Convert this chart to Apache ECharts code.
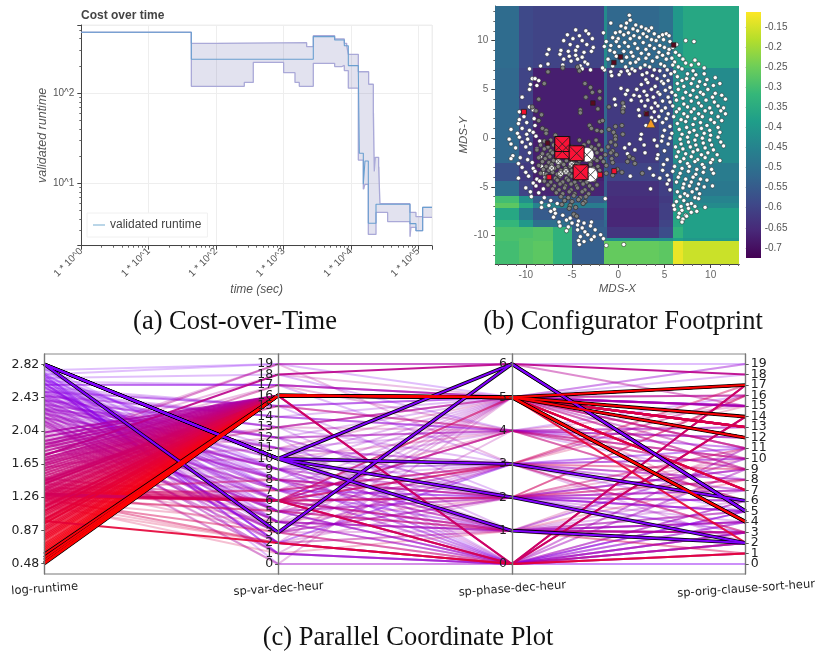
<!DOCTYPE html>
<html>
<head>
<meta charset="utf-8">
<style>html,body{margin:0;padding:0;background:#fff}#c{width:817px;height:652px}</style>
<script src="https://cdn.jsdelivr.net/npm/echarts@6/dist/echarts.min.js"></script>
</head>
<body>
<div id="c"></div>
<script>
// ---- (a) cost over time ----
const medianTime=[1,42.9,2767,5740,7980,9150,12880,13330,15280,16180,18120,23560,75200,92300,115900,159600];
const medianCost=[470,236,421,386,334,201,175,21.5,9.75,17.7,3.61,5.86,3.58,2.99,5.42,5.42];
const upperTime=[1,42.9,108,2205,2767,5740,7980,8650,9150,12880,18330,21500,22240,23020,25780,26980,75200,92300,115900,159600];
const upperCost=[470,355,361,326,431,396,355,334,268,172,125,59.6,13.5,19.4,15.3,5.96,4.77,4.27,5.42,5.42];
const lowerTime=[1,42.9,262,356,1004,1480,1715,2767,5740,7280,7980,9150,12880,15280,16180,18120,23560,35060,75200,77800,92300,115900,159600];
const lowerCost=[470,118.5,131,218,168,131,118.5,213,196,202,177,113,18.1,8.6,9.75,2.72,4.77,3.77,2.57,3.26,2.99,4.21,4.21];

// ---- (b) configurator footprint ----
const heatXEdges=[-13.3,-10.7,-9.2,-7.1,-5.0,-1.55,-1.2,4.4,5.95,7.0,13.1];
const heatYEdges=[13.55,7.17,-2.56,-4.37,-5.97,-6.66,-7.17,-8.36,-9.15,-10.2,-10.55,-12.9];
const heatValues=[
[-.51,-.59,-.60,-.60,-.60,-.43,-.52,-.50,-.40,-.36],
[-.52,-.60,-.675,-.675,-.675,-.52,-.62,-.58,-.42,-.43],
[-.57,-.62,-.675,-.675,-.675,-.55,-.60,-.58,-.45,-.47],
[-.50,-.60,-.665,-.665,-.665,-.55,-.64,-.61,-.45,-.48],
[-.30,-.42,-.55,-.55,-.55,-.50,-.65,-.62,-.42,-.45],
[-.27,-.35,-.45,-.45,-.47,-.45,-.65,-.61,-.42,-.43],
[-.36,-.47,-.55,-.55,-.57,-.50,-.66,-.61,-.38,-.38],
[-.32,-.40,-.50,-.50,-.55,-.52,-.66,-.60,-.36,-.38],
[-.29,-.29,-.28,-.33,-.54,-.54,-.63,-.58,-.33,-.38],
[-.29,-.28,-.28,-.33,-.54,-.45,-.42,-.42,-.38,-.40],
[-.30,-.28,-.27,-.33,-.54,-.26,-.26,-.27,-.13,-.16]];
const colorbarTicks=[-0.7,-0.65,-0.6,-0.55,-0.5,-0.45,-0.4,-0.35,-0.3,-0.25,-0.2,-0.15];
const mdsMajorTicks=[-10,-5,0,5,10];
const mdsMinorTicks=[-13,-12,-11,-9,-8,-7,-6,-4,-3,-2,-1,1,2,3,4,6,7,8,9,11,12,13];
const viridis=['#440154','#482878','#3e4989','#31688e','#26828e','#1f9e89','#35b779','#6ece58','#b5de2b','#fde725'];
const whitePoints=[
[1.2,12.6],[1.3,12.1],[.9,11.8],[1.9,11.6],[.3,11.5],[2.5,11.4],[-.8,11.8],[3.6,11.3],[3,11.2],[3.3,11],[1.6,11.2],[.8,11.3],[2.1,11],[.2,10.9],[-.3,10.8],[1.1,10.8],[2.7,10.7],[1.7,10.5],[.6,10.6],[3.9,10.7],[4.8,10.6],[5.2,10.7],[5.5,10.5],[4.4,10.4],[-1.6,10.8],[-.6,10.3],[0,10.2],[1.3,10.2],[2.3,10.3],[3.1,10.4],[3.6,10.1],[4.1,10],[4.9,10.1],[5.6,9.9],[7.3,10],[8.2,9.9],[-1.3,9.9],[-.2,9.9],[.7,9.8],[1.8,9.7],[2.7,9.8],[3.4,9.5],[4.5,9.5],[5,9.3],[6.3,9.6],[-1.5,9.4],[-.8,9.5],[.1,9.4],[1.1,9.4],[2.1,9.2],[3,9.1],[3.9,9.2],[5.5,9.1],[5.9,9.3],[-.9,9],[-.4,8.8],[.6,8.9],[1.4,8.8],[2.5,8.7],[3.3,8.6],[4.4,8.8],[4.8,8.5],[5.4,8.7],[6.2,8.8],[6.6,8.5],
[-.2,8.4],[.9,8.3],[1.6,8.4],[2.2,8.1],[3,8.2],[3.7,7.9],[4.2,8.3],[5.2,8.1],[5.8,8.2],[6.1,7.8],[7,8.1],[8.3,8],[-1.1,8.1],[.4,7.9],[1.3,7.7],[1.9,7.8],[2.9,7.5],[3.4,7.3],[4.6,7.6],[5,7.4],[5.9,7.5],[6.5,7.3],[7.3,7.7],[7.9,7.5],[8.7,7.6],[-.6,7.4],[.8,7.3],[1.5,7.1],[2.4,7.2],[3.9,7],[4.5,6.9],[5.3,7],[6.1,6.8],[6.9,7.1],[8.1,6.9],[9.3,7.2],[-1.5,7],[-.8,6.8],[.3,6.8],[1.2,6.6],[1.8,6.9],[2.6,6.5],[3.1,6.7],[3.7,6.4],[5,6.4],[5.7,6.6],[6.4,6.3],[7.5,6.6],[8.4,6.5],[9.3,6.6],[-.7,6.4],[.1,6.5],[1,6.9],[3,6],[4.2,6.1],[4.7,5.8],[5.4,5.9],[6.9,5.9],[7.4,6.1],[8.1,6.1],[8.8,5.8],[9.6,6],[10.5,6.2],[2.5,5.5],[3.2,5.7],[4,5.3],[4.9,5.6],[5.6,5.2],[6.4,5.6],[7.1,5.3],[7.9,5.6],[8.6,5.3],[9.4,5.5],[10.3,5.4],[11,5.6],
[.3,5.1],[1,4.9],[2,5],[2.8,4.8],[3.6,5],[4.3,4.7],[5.1,4.9],[5.8,4.7],[6.5,5],[7.3,4.7],[8.1,4.9],[8.9,4.7],[9.7,5],[10.5,4.6],[.8,4.5],[1.7,4.4],[2.3,4.3],[3.1,4.4],[3.8,4.2],[4.5,4.5],[5.4,4.2],[6.2,4.4],[7,4.1],[7.8,4.4],[8.5,4.2],[9.2,4.5],[10.2,4.2],[11.2,4.4],[-.4,4],[1.4,3.9],[2.5,3.8],[3.2,3.9],[4,3.6],[4.8,3.8],[5.6,3.7],[6.3,3.9],[7.1,3.5],[7.9,3.8],[8.7,3.6],[9.5,3.9],[10.4,3.7],[11.6,4],[-.3,3.4],[.6,3.2],[2.9,3.3],[3.6,3.1],[4.3,3.3],[5.1,3.1],[5.9,3.3],[6.6,3],[7.5,3.2],[8.2,3],[9,3.3],[9.9,3.1],[10.8,3.3],[11.4,3.1],[2.2,2.9],[3,2.6],[3.9,2.7],[4.7,2.8],[5.4,2.5],[6.3,2.7],[7.1,2.5],[7.9,2.7],[8.7,2.5],[9.4,2.8],[10.1,2.6],[11.1,2.8],[2.3,2.3],[3.6,2.1],[4.4,2.2],[5.2,2],[6,2.2],[6.8,1.9],[7.5,2.2],[8.3,2],[9.1,2.2],[10,1.9],[10.8,2.2],[11.6,2.5],[4,1.8],[4.8,1.6],[6.4,1.5],[7.3,1.7],[8.1,1.4],[8.9,1.6],[9.6,1.3],[10.4,1.6],[11.2,1.8],[3,1.3],[5.6,1.2],[6.6,.9],[7.4,1.1],[8.2,.8],[9,1],[9.9,.8],[10.8,1.1],
[5,.8],[5.8,.5],[6.9,.4],[7.7,.6],[8.5,.3],[9.3,.5],[10,.3],[11,.6],[2.5,.4],[4.8,.2],[5.6,0],[6.7,-.1],[7.5,.1],[8.3,-.2],[9.1,0],[9.9,-.2],[10.8,.1],[2.4,-.1],[3.9,-.2],[4.7,-.3],[5.4,-.6],[6.8,-.6],[7.6,-.4],[8.4,-.7],[9.2,-.5],[10.1,-.7],[11.1,-.4],[1.2,-.6],[2.8,-.7],[4.2,-.8],[6.2,-.9],[7,-1.1],[7.8,-.9],[8.6,-1.2],[9.4,-1],[10.3,-1.2],[11.4,-.8],[.7,-1],[1.8,-1.2],[5,-1.3],[6.5,-1.4],[7.3,-1.6],[8.1,-1.4],[9,-1.7],[9.7,-1.5],[10.7,-1.7],[1,-1.6],[2.9,-1.5],[4.3,-1.7],[6.3,-1.9],[7.1,-2.1],[7.9,-1.9],[8.6,-2.2],[9.4,-2],[10.2,-2.2],[4.2,-2.1],[5.3,-2.2],[6.7,-2.4],[7.5,-2.6],[8.3,-2.4],[9.1,-2.7],[10,-2.5],[11,-2.3],[4.9,-2.7],[6.1,-2.9],[6.9,-3.1],[7.7,-2.9],[8.5,-3.2],[9.3,-3],[10.1,-3.2],[3.4,-3.1],[4.8,-3.3],[5.9,-3.4],[6.7,-3.6],[7.6,-3.4],[8.4,-3.7],[9.2,-3.5],[10.3,-3.6],[1.3,-3.9],[3.8,-3.8],[5.3,-3.8],[6.5,-4],[7.3,-4.2],[8.1,-4],[8.9,-4.2],[4.5,-4.1],[5.5,-4.3],[6.3,-4.5],[7.1,-4.7],[7.9,-4.5],[8.7,-4.7],[9.6,-4.3],[5.3,-4.7],[7,-5.1],[7.7,-4.9],[8.5,-5.2],[9.3,-5],[10.2,-4.9],[3.5,-5.2],[5.6,-5.3],[6.4,-5.5],[7.2,-5.7],[8,-5.5],[8.8,-5.7],[6.7,-6],[7.5,-5.9],[8.3,-6.1],[9.4,-7.1],[6.3,-6.5],[7.1,-6.4],[7.9,-6.7],[8.7,-6.2],[6,-6.9],[6.8,-7],[7.5,-6.8],[8.3,-7],[6.1,-7.3],[6.9,-7.4],[7.6,-7.2],[8.5,-7.5],[6.6,-7.7],[7.3,-7.9],[7.9,-7.6],[6.5,-8.1],[7,-8.3],[7.4,-8],[6.9,-8.6],
[-4.6,11.1],[-3.5,11],[-5.5,10.6],[-4.2,10.5],[-3.2,10.7],[-5.9,10],[-4.9,10.2],[-3.9,10],[-2.8,10.2],[-5.2,9.6],[-4.4,9.4],[-3.4,9.6],[-2.7,9.3],[-7.5,9.1],[-6.2,9],[-5.4,8.9],[-4.6,9],[-3.7,8.8],[-2.9,8.9],[-7.7,8.6],[-6.3,8.6],[-5.3,8.4],[-4.6,8.5],[-3.9,8.3],[-5.9,8.1],[-5.1,7.9],[-4.4,8.1],[-3.6,7.8],[-7.6,7.6],[-6,7.5],[-4.1,7.4],[-3.3,7.6],[-9.6,7.1],[-8.4,7.4],[-3.9,7.1],[-3,7],[-1.7,7.2],[-9.3,6.1],[-9,6.1],[-8.6,5.9],[-9.5,5.5],[-8.8,5.4],[-9.6,5],[-10.4,4.2],[-9.6,3.2],[-10.7,2.7],[-9.2,2.9],[-10.2,2.2],[-10.7,1.9],[-9.1,2],[-10.8,1.5],[-9.9,1.6],[-9,1.3],[-11.6,.9],[-10.4,1],[-9.6,.8],[-10.9,.5],[-9.9,.4],[-9.2,.6],[-11.8,-.1],[-10.7,.1],[-9.8,-.1],[-8.9,.2],[-11.6,-.6],[-10.4,-.4],[-9.5,-.6],[-8.5,-.3],[-11.1,-1],[-10,-.9],[-8.8,-1.1],[-11.4,-1.8],[-9.6,-1.5],[-11.6,-2.1],[-10.6,-2],[-9.8,-2.2],[-8.4,-1.9],[-10.8,-2.6],[-9.3,-2.5],[-10.4,-3],[-9.2,-3.1],[-8.3,-2.9],[-10,-3.5],[-9,-3.4],[-8.1,-3.6],[-10.8,-4.1],[-9.7,-3.9],[-8.8,-4.2],[-7.9,-4],[-9.2,-4.6],[-8.5,-4.4],[-10,-5.1],[-8.9,-4.9],[-8.1,-5.2],[-9.5,-5.5],[-8.6,-5.6],[-9.4,-6],[-8,-6.1],[-8.3,-6.6],[-7.3,-6.4],[-6.6,-6.7],[-8.3,-7.1],[-7.5,-6.9],[-6.9,-7.3],[-7.3,-7.5],[-6.8,-7.7],[-7,-8.1],[-6,-7.9],[-5.2,-8.2],[-4.7,-7.9],[-6.4,-8.6],[-5.6,-8.4],[-5,-8.7],[-4.3,-8.5],[-3.7,-8.7],[-2.9,-8.6],[-6.3,-9],[-5.4,-9.1],[-4.4,-8.9],[-3.9,-9.2],[-3,-9],[-5.6,-9.5],[-4.4,-9.4],[-3.6,-9.6],[-2.5,-9.4],[-4.1,-10.1],[-3.3,-9.9],[-2.6,-10.1],[-1.9,-9.9],[-4.3,-10.5],[-3.7,-10.6],[-2.9,-10.4],[-1.6,-10.3],[-4.2,-10.9],[-1.3,-11],[.6,-10.9],[-1.4,-6.2]];
const grayPoints=[
[-6,7.2],[-4.4,7.3],[-7.6,6.8],[-4.2,6.9],[-8,5.6],[-3.6,5.6],[-3,5.2],[-2.8,4.7],[-2,4.8],[-3.5,4.2],[-2,4.1],[-8.6,4],[-9.3,3.2],[-1,3.2],[-2.2,3],[.5,3.6],[-8.9,2.8],[-4.1,2.9],[.5,3],[-8.3,2.4],[-4.1,2.6],[.5,2.7],[-8.6,1.8],[-2,1.7],[-1.7,1.8],[-3.1,1.3],[-.3,1.2],[.4,1.3],[-2.9,1],[-8.2,1],[-7.8,.8],[-2.3,.8],[-1.8,.7],[-1,.9],[-7.8,.5],[-.5,.6],[.5,.4],[-6.8,.3],[-.3,.2],
[-8,-.3],[-7.3,-.2],[-6.6,-.4],[-4.2,-.2],[-3.2,-.4],[-2.4,-.2],[-.8,-.4],[-.3,-.1],[-8.4,-.7],[-7.6,-.9],[-7,-.7],[-5,-.9],[-3.7,-.7],[-2.9,-.9],[-2.1,-.7],[-1.1,-.9],[-.3,-.7],[-8.8,-1.2],[-8,-1.1],[-7.3,-1.3],[-6.7,-1.1],[-3.2,-1.3],[-2.5,-1.1],[-1.8,-1.2],[-.6,-1.3],[-8.2,-1.6],[-7.6,-1.7],[-7.1,-1.5],[-3,-1.7],[-2.3,-1.5],[-1.4,-1.7],[-.8,-1.5],[-.2,-1.7],[-8.6,-2],[-7.9,-2.1],[-7.4,-1.9],[-6.8,-2.1],[-3.1,-1.9],[-2.6,-2.1],[-1.9,-2],[-.7,-2.1],[1.2,-1.9],[1.6,-2.1],[-8.2,-2.4],[-7.5,-2.5],[-7,-2.3],[-6.2,-2.5],[-5.6,-2.3],[-4.9,-2.5],[-4.2,-2.3],[-3,-2.5],[-2.3,-2.3],[-1.6,-2.4],[-.6,-2.5],[1,-2.4],[1.8,-2.6],
[-8.6,-2.8],[-7.8,-2.9],[-7.2,-2.7],[-6.5,-2.9],[-5.9,-2.7],[-5.2,-2.9],[-4.5,-2.7],[-3.7,-2.9],[-3,-2.7],[-2.2,-2.9],[-1.3,-2.8],[-8.1,-3.2],[-7.5,-3.3],[-6.9,-3.1],[-6.2,-3.3],[-5.7,-3.1],[-5,-3.3],[-4.3,-3.1],[-3.6,-3.3],[-2.7,-3.1],[-2,-3.3],[-.1,-3.2],[-8.4,-3.6],[-7.8,-3.7],[-7.1,-3.5],[-6.6,-3.7],[-5.9,-3.5],[-5.3,-3.7],[-4.6,-3.5],[-3.9,-3.7],[-3.2,-3.5],[-2.4,-3.7],[-1.3,-3.6],[-.6,-3.8],[.4,-3.5],[2.6,-3.6],[-7.7,-4],[-6.8,-4.1],[-6.3,-3.9],[-5.6,-4.1],[-5,-3.9],[-4.4,-4.1],[-3.7,-3.9],[-3,-4.1],[-2.3,-3.9],[-8,-4.4],[-7.3,-4.5],[-6.6,-4.3],[-6,-4.5],[-5.4,-4.3],[-4.7,-4.5],[-4.1,-4.3],[-3.4,-4.5],[-2.6,-4.3],[-7.6,-4.8],[-6.9,-4.9],[-6.3,-4.7],[-5.7,-4.9],[-5.1,-4.7],[-4.5,-4.9],[-3.8,-4.7],[-3.1,-4.9],[-2.3,-4.8],[-7.1,-5.2],[-6.4,-5.3],[-5.8,-5.1],[-5.1,-5.3],[-4.4,-5.1],[-3.6,-5.3],[-2.8,-5.2],[-6.7,-5.6],[-6,-5.7],[-5.3,-5.5],[-4.7,-5.7],[-3.9,-5.5],[-3.2,-5.7],[-6.2,-6],[-5.4,-6.1],[-4.8,-5.9],[-4.1,-6.1],[-3.5,-6],[-5.8,-6.4],[-5,-6.5],[-4.3,-6.3],[-3.6,-6.5],[-6.1,-6.8],[-5.2,-6.9],[-3.8,-6.7],[-5.3,-7.2],[-4.6,-7.1],[-4.8,-7.8],[-4.5,-8]];
const lightPoints=[[-6.49,-2.39],[-5.04,-2.66],[-7.2,-3.07],[-6.23,-3.65],[-5.65,-3.41],[-4.3,-2.9]];
const brightRedPoints=[[-10.2,2.7],[-7.46,-4],[-1.98,-3.75],[-0.43,-3.38]];
const darkRedPoints=[[-7.64,-0.5],[-2.74,3.6],[-0.47,7.75],[0.25,8.33],[6,9.55],[3.06,2.5]];
const bigCirclePoints=[[-3.4,-1.7],[-3,-3.75]];
const bigSquarePoints=[[-6.05,-1.35],[-6.05,-0.6],[-4.5,-1.55],[-4.07,-3.5]];
const trianglePoint=[[3.53,1.54]];

// ---- (c) parallel coordinates ----
const runtimeTicks=[0.48,0.87,1.26,1.65,2.04,2.43,2.82];
// 0 and 19 are listed twice: the library drops the label next to each end label when they touch,
// so the dropped one is the duplicate rather than 1 or 18.
const varTicks=[0,0,1,2,3,4,5,6,7,8,9,10,11,12,13,14,15,16,17,18,19,19];
const phaseTicks=[0,1,2,3,4,5,6];
const wedgeRuntime=[2.02,1.97,1.92,1.88,1.84,1.80,1.76,1.72,1.69,1.66,1.63,1.60,1.57,1.54,1.51,1.48,1.46,1.43,1.41,1.38,1.36,1.34,1.31,1.29,1.27,1.25,1.22,1.20,1.17,1.15,1.13,1.10,1.08,1.06,1.04,1.01,.99,.97,.95,.92,.90,.88,.86,.83,.81,.79,.77,.75,.72,.70,.68,.66,.64,.62];
const wedgeOrig=[15,13,14,12,14,14,13,17,12,14,13,12,17,14,13,12,14,17,13,7,12,14,4,13,7,14,12,4,17,13,14,14,12,4,17,14,7,12,4,14,17,12,4,14,4,12,17,4,14,12,17,4,14,12];
const faintRows=[
[2.75,19,6,19],[2.7,19,5,15],[2.66,18,4,16],[2.62,17,5,18],[2.58,17,3,10],[2.55,15,5,19],[2.52,15,2,9],[2.5,14,5,11],[2.47,14,4,8],[2.45,13,3,7],
[2.42,13,1,3],[2.4,12,5,10],[2.38,11,4,12],[2.36,11,1,5],[2.34,10,5,15],[2.32,10,2,4],[2.3,9,5,16],[2.28,9,4,6],[2.26,8,5,19],[2.24,8,3,3],
[2.22,7,5,11],[2.2,7,1,4],[2.18,6,5,9],[2.16,6,3,2],[2.14,5,5,15],[2.12,5,2,8],[2.1,4,5,13],[2.08,4,1,7],[2.06,3,5,14],[2.04,3,1,3],
[2.02,2,5,15],[2,2,2,6],[1.98,1,4,10],[1.96,1,0,5],[1.94,0,5,11],[1.92,0,0,1],[1.9,19,3,16],[1.88,18,5,16],[1.85,17,4,9],[1.82,15,4,13],
[1.78,13,4,10],[1.74,12,4,9],[1.7,11,5,10],[1.66,10,4,15],[1.62,9,2,10],[1.58,8,1,11],[1.54,7,4,9],[1.5,5,3,16],[1.46,4,2,7],[1.42,3,2,5],
[2.78,5,0,0],[2.72,4,1,2],[2.68,1,0,1],[2.64,0,0,0],[2.6,2,1,4],[2.56,3,0,2],[2.48,6,1,2],[2.44,7,0,3],[2.37,8,0,1],[2.33,9,0,6],
[1.35,6,5,5],[1.33,6,2,16],[1.31,6,4,12],[1.29,6,1,3],[1.25,7,3,15],[1.24,5,2,9],[1.22,4,1,4],[1.2,2,1,8],[1.18,1,1,5],[1.15,2,0,3],
[2.79,8,2,5],[2.76,7,3,5],[2.73,9,0,3],[2.71,6,1,4],[2.69,10,0,2],[2.67,5,2,3],[2.65,7,1,5],[2.63,11,2,6],[2.61,8,0,4],[2.59,4,0,3],[2.57,9,2,7],[2.54,6,0,2],[2.49,5,0,4],[2.46,12,0,5],[2.43,7,2,3],[2.41,10,3,8],[2.39,4,3,6],[2.31,6,2,5],[2.27,5,3,7],[2.23,9,1,6],[2.19,11,0,4],[2.17,7,0,2]];
const midRows=[
[2.58,17,5,15],[2.5,15,5,15],[2.45,14,4,11],[2.4,13,5,14],[2.35,12,2,6],[2.3,12,4,13],[2.28,11,3,10],[2.25,9,1,3],[2.2,8,1,4],[2.15,5,0,3],
[2.12,4,0,6],[2.1,3,3,8],[2.6,2,3,11],[2.65,2,0,5],[2.7,1,0,2],[2.55,7,2,5],[2.5,9,3,6],[2.45,8,2,9],[2.4,6,4,12],[2.35,5,1,3],
[2.3,4,1,10],[2.25,3,2,7],[2.2,2,0,9],[2.15,1,0,11],[1.85,19,6,15],[1.7,17,5,16],[1.65,15,4,10],[1.6,13,5,9],[1.35,8,2,16],[1.3,7,3,9],
[1.3,6,3,17],[1.27,6,5,11],[1.26,6,2,8],[1.25,5,1,1],[1.25,2,0,2],[1.22,3,0,1],[1.42,6,1,3],[1.38,6,4,6],[1.34,6,3,3],[1.48,6,2,11]];
const strongRows=[
[1.75,18,6,18],[1.28,6,0,17],[1.30,6,0,14],[1.45,16,0,17],[1.42,16,0,14],[1.10,16,5,7],[1.15,16,5,13],[0.95,16,5,2],[1.0,16,5,4],[0.98,2,0,1]];
const outlinedPurple=[[2.82,10,6,5],[2.82,10,3,6],[2.82,10,2,2],[2.82,10,1,2],[2.82,3,6,5]];
const outlinedRed=[[0.59,16,5,4],[0.55,16,5,12],[0.52,16,5,14],[0.49,16,5,4],[0.48,16,5,17]];

function runtimeColor(rt){const f=Math.max(0,Math.min(1,(rt-0.48)/2.34));
  return 'rgb('+Math.round(255-127*f)+',0,'+Math.round(255*f)+')';}
function parRows(rows,opacity,width,color){return rows.map(r=>({value:r,lineStyle:{color:color||runtimeColor(r[0]),opacity:opacity,width:width}}));}
function stepPoints(ts,vs,api){const p=[];ts.forEach((t,i)=>{if(i>0)p.push(api.coord([t,vs[i-1]]));p.push(api.coord([t,vs[i]]));});return p;}
const crossPath='path://M0 0L10 10M0 10L10 0';
const sans='"Liberation Sans",Arial,sans-serif', dv='"DejaVu Sans",sans-serif', serif='"Liberation Serif",serif';

const heatData=[];
heatValues.forEach((row,j)=>row.forEach((v,i)=>heatData.push([heatXEdges[i],heatXEdges[i+1],heatYEdges[j+1],heatYEdges[j],v])));

function rectShape(api){const a=api.coord([api.value(0),api.value(3)]),b=api.coord([api.value(1),api.value(2)]);
  const x=Math.round(a[0]),y=Math.round(a[1]);return {x:x,y:y,width:Math.round(b[0])-x,height:Math.round(b[1])-y};}
function bandLine(name,ts,vs){return {name:name,type:'line',step:'end',symbol:'none',xAxisIndex:0,yAxisIndex:0,
  data:ts.map((t,i)=>[t,vs[i]]),lineStyle:{color:'#aaa9d8',width:1.3},z:3,silent:true};}
function pts(name,data,sym,size,fill,border,bw,z){return {name:name,type:'scatter',xAxisIndex:1,yAxisIndex:1,data:data,symbol:sym,symbolSize:size,
  itemStyle:{color:fill,borderColor:border,borderWidth:bw,opacity:1},z:z,silent:true,large:false};}
function parAxis(dim,name,min,max,ticks,right,labelFn){return {dim:dim,name:name,min:min,max:max,nameLocation:'start',nameGap:9,nameRotate:4,
  nameTextStyle:{fontFamily:dv,fontSize:11.5,color:'#222',align:'center',verticalAlign:'top'},
  axisLine:{lineStyle:{color:'#777',width:1.4}},
  axisTick:{show:true,length:right?3:-3,customValues:ticks,lineStyle:{color:'#555'}},
  axisLabel:{show:true,align:right?'left':'right',margin:right?5:-5,showMinLabel:true,showMaxLabel:true,hideOverlap:false,customValues:ticks,
    fontFamily:dv,fontSize:12.5,color:'#222',formatter:labelFn||(v=>String(v))}};}
function overlayAxis(horizontal){return {type:'value',gridIndex:1,position:horizontal?'bottom':'left',min:horizontal?-13.3:-12.9,max:horizontal?13.1:13.55,splitLine:{show:false},
  axisLine:{show:false,onZero:false},axisLabel:{show:false},axisTick:{show:true,length:2,customValues:mdsMinorTicks,lineStyle:{color:'#666'}}};}

const option={
  animation:false,backgroundColor:'#fff',
  title:[
    {text:'Cost over time',left:81,top:10,padding:0,textStyle:{fontFamily:sans,fontSize:12,fontWeight:'bold',color:'#444'}},
    {text:'(a) Cost-over-Time',left:235,top:309,padding:0,textAlign:'center',textStyle:{fontFamily:serif,fontSize:26.5,fontWeight:'normal',color:'#111'}},
    {text:'(b) Configurator Footprint',left:623,top:309,padding:0,textAlign:'center',textStyle:{fontFamily:serif,fontSize:26.5,fontWeight:'normal',color:'#111'}},
    {text:'(c) Parallel Coordinate Plot',left:408,top:625,padding:0,textAlign:'center',textStyle:{fontFamily:serif,fontSize:26.5,fontWeight:'normal',color:'#111'}}
  ],
  legend:{data:[{name:'validated runtime',icon:'path://M0 5L12 5L12 6L0 6Z'}],left:87,top:213,padding:[6,6,6,6],itemWidth:12,itemHeight:12,itemGap:3,
    borderColor:'#f0f0f0',borderWidth:1,backgroundColor:'#fff',textStyle:{fontFamily:sans,fontSize:12,color:'#444'},selectedMode:false,z:10},
  grid:[
    {left:81.3,top:25,width:350.7,height:220.7,show:true,borderColor:'#eee',borderWidth:1,backgroundColor:'#fff'},
    {left:495.3,top:6,width:244,height:258},
    {left:745.7,top:11.7,width:15,height:246.6}
  ],
  xAxis:[
    {type:'log',gridIndex:0,logBase:10,min:1,max:159600,axisLine:{onZero:false,lineStyle:{color:'#444',width:1}},
      axisTick:{length:4,lineStyle:{color:'#444'}},minorTick:{show:true,splitNumber:9,length:2,lineStyle:{color:'#666'}},
      splitLine:{show:true,lineStyle:{color:'#eee'}},minorSplitLine:{show:false},
      axisLabel:{rotate:45,fontFamily:sans,fontSize:10,color:'#555',margin:4,showMaxLabel:false,
        formatter:v=>{const e=Math.log10(v);return Math.abs(e-Math.round(e))<1e-6?'1 * 10^'+Math.round(e):'';}},
      name:'time (sec)',nameLocation:'middle',nameGap:38,nameTextStyle:{fontFamily:sans,fontSize:12,fontStyle:'italic',color:'#555'}},
    {type:'value',gridIndex:1,position:'bottom',min:-13.3,max:13.1,axisLine:{onZero:false,lineStyle:{color:'#444'}},
      axisTick:{length:4,customValues:mdsMajorTicks,lineStyle:{color:'#444'}},splitLine:{show:false},
      axisLabel:{customValues:mdsMajorTicks,fontFamily:sans,fontSize:10,color:'#666',margin:6},
      name:'MDS-X',nameLocation:'middle',nameGap:19,nameTextStyle:{fontFamily:sans,fontSize:11.5,fontStyle:'italic',color:'#555'}},
    {type:'value',gridIndex:2,min:0,max:1,show:false},
    overlayAxis(true)
  ],
  yAxis:[
    {type:'log',gridIndex:0,logBase:10,min:2.04,max:566,axisLine:{onZero:false,show:true,lineStyle:{color:'#444',width:1}},
      axisTick:{show:true,length:4,lineStyle:{color:'#444'}},minorTick:{show:true,splitNumber:9,length:2,lineStyle:{color:'#666'}},
      splitLine:{show:true,lineStyle:{color:'#eee'}},
      axisLabel:{fontFamily:sans,fontSize:10,color:'#555',margin:7,formatter:v=>{const e=Math.log10(v);return Math.abs(e-Math.round(e))<1e-6?'10^'+Math.round(e):'';}},
      name:'validated runtime',nameLocation:'middle',nameGap:29,nameTextStyle:{fontFamily:sans,fontSize:12.5,fontStyle:'italic',color:'#555'}},
    {type:'value',gridIndex:1,position:'left',min:-12.9,max:13.55,axisLine:{onZero:false,lineStyle:{color:'#444'}},
      axisTick:{length:4,customValues:mdsMajorTicks,lineStyle:{color:'#444'}},splitLine:{show:false},
      axisLabel:{customValues:mdsMajorTicks,fontFamily:sans,fontSize:10,color:'#666',margin:7},
      name:'MDS-Y',nameLocation:'middle',nameGap:19,nameTextStyle:{fontFamily:sans,fontSize:11.5,fontStyle:'italic',color:'#555'}},
    {type:'value',gridIndex:2,min:-0.726,max:-0.112,position:'right',splitLine:{show:false},axisLine:{show:false},
      axisTick:{show:true,length:3,customValues:colorbarTicks,lineStyle:{color:'#888'}},
      axisLabel:{customValues:colorbarTicks,fontFamily:sans,fontSize:10,color:'#555',margin:4,formatter:v=>String(+v.toFixed(2))}},
    overlayAxis(false)
  ],
  visualMap:{show:false,type:'continuous',seriesIndex:4,dimension:4,min:-0.726,max:-0.112,inRange:{color:viridis}},
  parallel:{left:44.3,right:71.3,top:354,bottom:78,layout:'horizontal',parallelAxisDefault:{type:'value'}},
  parallelAxis:[
    parAxis(0,'log-runtime',0.358,2.942,runtimeTicks,false,v=>v.toFixed(2)),
    parAxis(1,'sp-var-dec-heur',-0.95,19.95,varTicks,false),
    parAxis(2,'sp-phase-dec-heur',-0.3,6.3,phaseTicks,false),
    parAxis(3,'sp-orig-clause-sort-heur',-0.95,19.95,varTicks,true)
  ],
  graphic:[
    {type:'line',shape:{x1:44.3,y1:354,x2:745.7,y2:354},style:{stroke:'#888',lineWidth:1},silent:true},
    {type:'line',shape:{x1:44.3,y1:574,x2:745.7,y2:574},style:{stroke:'#777',lineWidth:1},silent:true}
  ],
  series:[
    {type:'custom',xAxisIndex:0,yAxisIndex:0,data:[[1,470]],z:2,silent:true,
      renderItem:(p,api)=>{const u=stepPoints(upperTime,upperCost,api),l=stepPoints(lowerTime,lowerCost,api).reverse();
        return {type:'polygon',shape:{points:u.concat(l)},style:{fill:'rgba(110,110,175,0.2)'}};}},
    bandLine('upper',upperTime,upperCost),
    bandLine('lower',lowerTime,lowerCost),
    {name:'validated runtime',type:'line',step:'end',symbol:'none',xAxisIndex:0,yAxisIndex:0,data:medianTime.map((t,i)=>[t,medianCost[i]]),
      itemStyle:{color:'#74add1'},lineStyle:{color:'#6a9fd0',width:1.1},z:4,silent:true},
    {type:'custom',xAxisIndex:1,yAxisIndex:1,data:heatData,dimensions:['x0','x1','y0','y1','value'],z:1,silent:true,
      renderItem:(p,api)=>({type:'rect',shape:rectShape(api),style:{fill:api.visual('color')}})},
    {type:'custom',xAxisIndex:2,yAxisIndex:2,data:[[0,1,-0.726,-0.112]],z:1,silent:true,
      renderItem:(p,api)=>({type:'rect',shape:rectShape(api),style:{fill:new echarts.graphic.LinearGradient(0,1,0,0,
        viridis.map((c,i)=>({offset:i/(viridis.length-1),color:c})))}})},
    pts('white',whitePoints,'circle',4.2,'#fff','#222',0.5,5),
    pts('gray',grayPoints,'circle',4.4,'#808080','#333',0.8,6),
    pts('light',lightPoints,'circle',6,'#e8e8e8','#333',0.8,6),
    pts('lightX',lightPoints,crossPath,4,'none','#333',0.7,6),
    pts('darkRed',darkRedPoints,'rect',4.5,'#5a0a1e','#222',0.7,7),
    pts('brightRed',brightRedPoints,'rect',5,'#f5102d','#222',0.8,7),
    pts('triangle',trianglePoint,'triangle',9,'#f59a23','#333',0.6,7),
    pts('bigCircle',bigCirclePoints,'circle',14.5,'#fff','#333',0.6,8),
    pts('bigCircleX',bigCirclePoints,crossPath,10,'none','#222',0.8,8),
    pts('bigSquare',bigSquarePoints,'rect',15,'#fb1237','#111',1,9),
    pts('bigSquareX',bigSquarePoints,crossPath,15,'none','#222',0.8,9),
    {type:'parallel',parallelIndex:0,progressive:0,smooth:false,silent:true,z:2,data:parRows(faintRows,0.25,2)},
    {type:'parallel',parallelIndex:0,progressive:0,smooth:false,silent:true,z:2,data:parRows(midRows,0.45,2)},
    {type:'parallel',parallelIndex:0,progressive:0,smooth:false,silent:true,z:2,data:parRows(wedgeRuntime.map((r,i)=>[r,16,5,wedgeOrig[i]]),0.8,2.2)},
    {type:'parallel',parallelIndex:0,progressive:0,smooth:false,silent:true,z:2,data:parRows(strongRows,0.9,2)},
    {type:'parallel',parallelIndex:0,progressive:0,smooth:false,silent:true,z:3,data:parRows(outlinedPurple.concat(outlinedRed),1,3.6,'#000')},
    {type:'parallel',parallelIndex:0,progressive:0,smooth:false,silent:true,z:3,data:parRows(outlinedPurple.concat(outlinedRed),1,2)}
  ]
};
const chart=echarts.init(document.getElementById('c'),null,{renderer:'canvas',width:817,height:652});
chart.setOption(option);
</script>
</body>
</html>
